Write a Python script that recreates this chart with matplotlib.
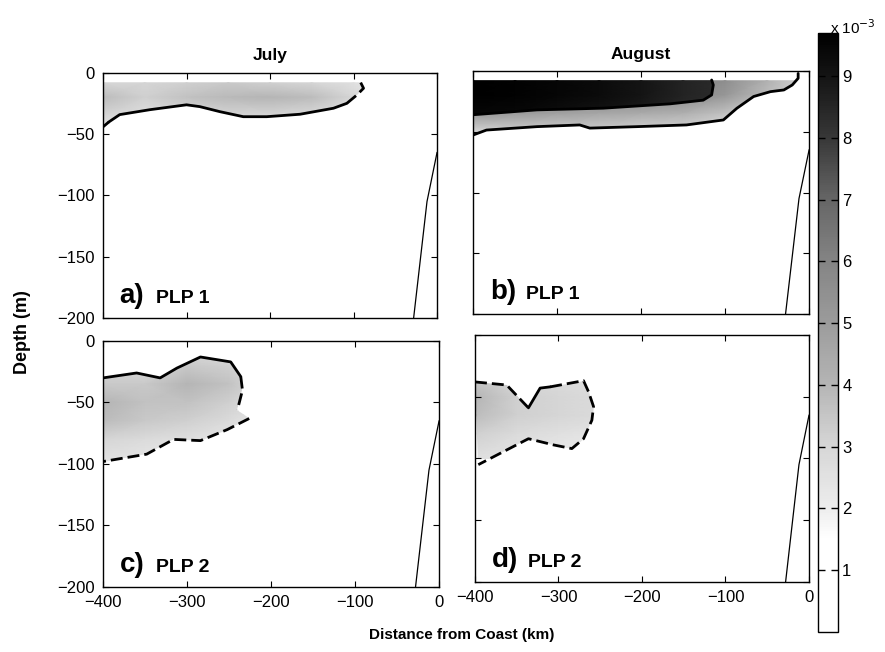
import numpy as np
import matplotlib
matplotlib.use("Agg")
import matplotlib.pyplot as plt
from matplotlib.colors import LinearSegmentedColormap, Normalize
from matplotlib.patches import Polygon
from matplotlib.cm import ScalarMappable

plt.rcParams['font.family'] = ['Liberation Sans', 'DejaVu Sans']

# concentration grid (x 10^-3)
grid_x = [-400, -350, -300, -250, -200, -150, -100, -50, 0]
grid_z = [-8, -20, -35, -50, -65, -80, -100]

conc_a = [
    [3.0, 3.0, 3.2, 3.4, 3.2, 3.0, 2.6, 2.0, 1.5],
    [3.8, 3.2, 3.6, 3.9, 4.0, 3.8, 3.0, 2.2, 1.5],
    [3.0, 2.6, 2.8, 3.0, 3.0, 2.8, 2.4, 1.8, 1.2],
    [2.2, 2.0, 2.0, 2.0, 2.0, 2.0, 1.6, 1.2, 1.0],
    [1.5, 1.5, 1.5, 1.5, 1.5, 1.5, 1.2, 1.0, 1.0],
    [1.0, 1.0, 1.0, 1.0, 1.0, 1.0, 1.0, 1.0, 1.0],
    [1.0, 1.0, 1.0, 1.0, 1.0, 1.0, 1.0, 1.0, 1.0],
]
conc_b = [
    [6.0, 6.0, 6.0, 6.0, 6.0, 6.0, 5.6, 4.2, 3.0],
    [6.0, 6.0, 6.0, 6.0, 6.0, 5.8, 5.2, 3.8, 2.6],
    [5.2, 5.0, 4.8, 4.6, 4.4, 4.2, 3.6, 2.8, 2.0],
    [3.0, 3.2, 3.2, 3.2, 3.0, 3.0, 2.6, 2.0, 1.5],
    [2.0, 2.0, 2.0, 2.0, 2.0, 2.0, 1.6, 1.2, 1.0],
    [1.5, 1.5, 1.5, 1.5, 1.5, 1.5, 1.2, 1.0, 1.0],
    [1.0, 1.0, 1.0, 1.0, 1.0, 1.0, 1.0, 1.0, 1.0],
]
conc_b_core = [
    [9.7, 9.6, 9.5, 9.3, 9.0, 8.6, 8.3, 8.0, 8.0],
    [9.7, 9.6, 9.5, 9.3, 9.0, 8.6, 8.3, 8.0, 8.0],
    [9.5, 9.4, 9.2, 9.0, 8.8, 8.4, 8.0, 8.0, 8.0],
]
conc_c = [
    [2.5, 2.5, 2.8, 2.8, 2.0, 1.5, 1.0, 1.0, 1.0],
    [3.0, 2.8, 3.4, 3.2, 2.2, 1.5, 1.0, 1.0, 1.0],
    [3.4, 3.4, 4.0, 3.6, 2.4, 1.5, 1.0, 1.0, 1.0],
    [4.0, 3.6, 3.6, 3.2, 2.4, 1.5, 1.0, 1.0, 1.0],
    [3.8, 3.4, 3.2, 2.8, 2.2, 1.5, 1.0, 1.0, 1.0],
    [3.0, 2.8, 2.6, 2.4, 2.0, 1.5, 1.0, 1.0, 1.0],
    [2.4, 2.2, 2.0, 2.0, 1.6, 1.2, 1.0, 1.0, 1.0],
]
conc_d = [
    [2.0, 2.0, 2.0, 2.0, 1.5, 1.0, 1.0, 1.0, 1.0],
    [2.6, 2.4, 2.4, 2.2, 1.6, 1.0, 1.0, 1.0, 1.0],
    [3.4, 3.0, 2.8, 2.6, 1.8, 1.0, 1.0, 1.0, 1.0],
    [4.0, 3.2, 3.0, 2.8, 1.8, 1.0, 1.0, 1.0, 1.0],
    [3.8, 3.2, 3.0, 2.8, 1.8, 1.0, 1.0, 1.0, 1.0],
    [3.2, 2.8, 2.6, 2.4, 1.6, 1.0, 1.0, 1.0, 1.0],
    [2.6, 2.4, 2.2, 2.0, 1.5, 1.0, 1.0, 1.0, 1.0],
]

# bounding contours (distance km, depth m)
a_edge_x = [-400, -393, -380, -344, -300, -284, -260, -232, -204, -164, -124, -108, -96, -88, -94]
a_edge_z = [-44, -40, -34, -30, -26, -27.5, -31.6, -35.7, -35.7, -33.7, -28.8, -24.8, -18, -12.5, -4.3]
a_pieces = [(0, 1, 'dash'), (1, 11, 'solid'), (11, 14, 'dash')]

b_edge_x = [-400, -384, -324, -273, -261, -205, -146, -102, -86, -66, -46, -30, -20, -13, -13]
b_edge_z = [-52.7, -48.6, -45.8, -44.4, -47, -45.8, -44.4, -40.3, -30.7, -21, -17, -15.6, -11.5, -6, -2]
b_pieces = [(0, 14, 'solid')]
b_core_x = [-400, -324, -245, -165, -126, -116, -114, -116]
b_core_z = [-36, -32, -30.6, -27, -24, -19.7, -11.5, -7.4]

c_edge_x = [-400, -360, -332, -312, -284, -248, -236, -234, -240, -226, -252, -284, -316, -348, -400]
c_edge_z = [-30, -26, -30, -22, -13, -17, -29, -40, -56, -63, -72, -81, -80, -92, -98]
c_pieces = [(0, 6, 'solid'), (6, 8, 'dash'), (9, 14, 'dash')]

d_edge_x = [-400, -362, -336, -322, -310, -270, -264, -258, -260, -270, -284, -306, -336, -396]
d_edge_z = [-38, -40.5, -59, -43, -42, -37, -46, -58, -69, -84, -92, -89, -84, -105]
d_pieces = [(0, 2, 'dash'), (2, 4, 'solid'), (4, 13, 'dash')]

# shelf / bottom line
shelf_x = [-28, -12, 0]
shelf_z = [-200, -105, -65]

months = ['July', 'August']
panel_tags = ['a)', 'b)', 'c)', 'd)']
panel_names = ['PLP 1', 'PLP 1', 'PLP 2', 'PLP 2']

cbar_levels = [0, 1.5, 2, 3, 4, 5, 6, 7, 8, 9, 9.7]
cbar_grays = [1.0, 1.0, 0.93, 0.84, 0.71, 0.61, 0.52, 0.40, 0.22, 0.08, 0.0]

vmax = cbar_levels[-1]
cmap = LinearSegmentedColormap.from_list(
    'stipple', [(v / vmax, (g, g, g)) for v, g in zip(cbar_levels, cbar_grays)])
norm = Normalize(0, vmax)

DASH = (0, (4.3, 1.8))


def shade(ax, values, clip_x, clip_z, close_x, close_z):
    zz = grid_z[:len(values)]
    X, Z = np.meshgrid(grid_x, zz)
    mesh = ax.pcolormesh(X, Z, np.array(values), cmap=cmap, norm=norm,
                         shading='gouraud', zorder=1)
    pts = np.column_stack([list(clip_x) + [close_x], list(clip_z) + [close_z]])
    poly = Polygon(pts, closed=True, facecolor='none', edgecolor='none',
                   transform=ax.transData)
    ax.add_patch(poly)
    mesh.set_clip_path(poly)


def outline(ax, xs, zs, pieces):
    for i0, i1, kind in pieces:
        ls = '-' if kind == 'solid' else DASH
        ax.plot(xs[i0:i1 + 1], zs[i0:i1 + 1], color='k', lw=2.0, ls=ls,
                solid_capstyle='round', dash_capstyle='butt', zorder=3)


fig = plt.figure(figsize=(8.85, 6.52), dpi=100)
rects = [
    [0.1164, 0.5123, 0.3774, 0.3758],
    [0.5345, 0.5184, 0.3797, 0.3727],
    [0.1164, 0.0997, 0.3797, 0.3773],
    [0.5367, 0.1074, 0.3774, 0.3788],
]
axes = [fig.add_axes(r) for r in rects]

shade(axes[0], conc_a, a_edge_x, a_edge_z, -400, -4)
outline(axes[0], a_edge_x, a_edge_z, a_pieces)

shade(axes[1], conc_b, b_edge_x, b_edge_z, -400, -2)
shade(axes[1], conc_b_core, b_core_x, b_core_z, -400, -7)
outline(axes[1], b_edge_x, b_edge_z, b_pieces)
axes[1].plot(b_core_x, b_core_z, color='k', lw=2.0, solid_capstyle='round', zorder=3)

shade(axes[2], conc_c, c_edge_x, c_edge_z, -400, -30)
outline(axes[2], c_edge_x, c_edge_z, c_pieces)

shade(axes[3], conc_d, d_edge_x, d_edge_z, -400, -38)
outline(axes[3], d_edge_x, d_edge_z, d_pieces)

for i, ax in enumerate(axes):
    ax.plot(shelf_x, shelf_z, color='k', lw=0.9, zorder=2)
    ax.set_xlim(-400, 0)
    ax.set_ylim(-200, 0)
    ax.set_xticks([-400, -300, -200, -100, 0])
    ax.set_yticks([0, -50, -100, -150, -200])
    ax.tick_params(direction='in', top=True, right=True, length=4, width=0.8,
                   labelsize=12, pad=6)
    for sp in ax.spines.values():
        sp.set_linewidth(1.0)
    if i < 2:
        ax.set_xticklabels([])
    if i % 2 == 1:
        ax.set_yticklabels([])
    ax.text(-380, -188, panel_tags[i], fontsize=20, fontweight='bold', va='baseline')
    ax.text(-337, -188, panel_names[i], fontsize=14, fontweight='bold', va='baseline')

axes[0].set_title(months[0], fontsize=12.5, fontweight='bold', pad=9)
axes[1].set_title(months[1], fontsize=12.5, fontweight='bold', pad=9)

fig.text(0.025, 0.49, 'Depth (m)', rotation=90, fontsize=13, fontweight='bold',
         ha='center', va='center')
fig.text(0.522, 0.026, 'Distance from Coast (km)', fontsize=11, fontweight='bold',
         ha='center', va='center')

cax = fig.add_axes([0.9243, 0.0307, 0.0226, 0.9187])
cb = fig.colorbar(ScalarMappable(norm=norm, cmap=cmap), cax=cax)
cb.set_ticks([1, 2, 3, 4, 5, 6, 7, 8, 9])
cax.tick_params(direction='in', left=True, right=True, length=5, width=1.0,
                labelsize=12, pad=3)
cb.outline.set_linewidth(1.0)
fig.text(0.99, 0.958, r'x 10$^{-3}$', fontsize=11, ha='right', va='center')

fig.savefig('out.png', dpi=100)
